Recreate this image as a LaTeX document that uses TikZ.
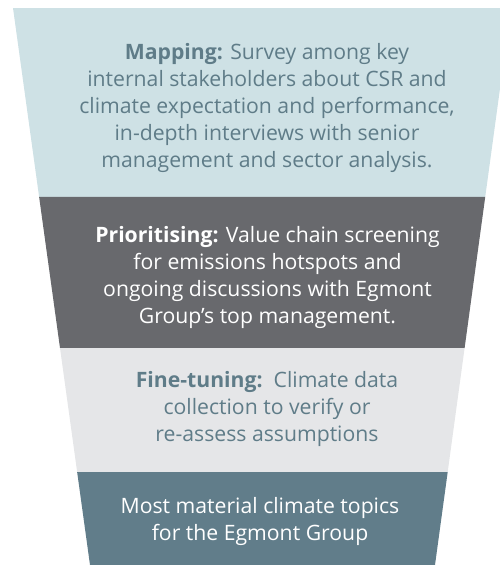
\documentclass[tikz,border=0pt]{standalone}
\usepackage{fontspec}
\setmainfont{Open Sans}
\usetikzlibrary{calc}
\definecolor{mapfill}{HTML}{CEE1E5}
\definecolor{prifill}{HTML}{68696D}
\definecolor{finefill}{HTML}{E5E6E8}
\definecolor{mostfill}{HTML}{617D8A}
\definecolor{slate}{HTML}{5F7C88}
\begin{document}
\begin{tikzpicture}[x=1pt,y=-1pt,
  bandtext/.style={align=center, inner sep=0pt,
    font=\fontsize{21.2}{27}\selectfont},
  darktext/.style={bandtext, text=slate},
  lighttext/.style={bandtext, text=white}]
\useasboundingbox (0,0) rectangle (499,565);
% funnel outline corners
\coordinate (TL) at (13,8);
\coordinate (TR) at (511,8);
\coordinate (BL) at (90,565);
\coordinate (BR) at (435,565);
% band boundaries along the slanted sides
\coordinate (L1) at ($(TL)!{189/557}!(BL)$);
\coordinate (R1) at ($(TR)!{189/557}!(BR)$);
\coordinate (L2) at ($(TL)!{340/557}!(BL)$);
\coordinate (R2) at ($(TR)!{340/557}!(BR)$);
\coordinate (L3) at ($(TL)!{464/557}!(BL)$);
\coordinate (R3) at ($(TR)!{464/557}!(BR)$);
% bands
\fill[mapfill] (TL) -- (TR) -- (R1) -- (L1) -- cycle;
\fill[prifill] (L1) -- (R1) -- (R2) -- (L2) -- cycle;
\fill[finefill] (L2) -- (R2) -- (R3) -- (L3) -- cycle;
\fill[mostfill] (L3) -- (R3) -- (BR) -- (BL) -- cycle;
% texts
\node[darktext] (mapping) at (267,107.8) {\textbf{Mapping:} Survey among key\\
  internal stakeholders about CSR and\\
  climate expectation and performance,\\
  in-depth interviews with senior\\
  management and sector analysis.};
\node[lighttext] (prioritising) at (267.5,277.5) {\textbf{Prioritising:} Value chain screening\\
  for emissions hotspots and\\
  ongoing discussions with Egmont\\
  Group’s top management.};
\node[darktext] (finetuning) at (267,409) {\textbf{Fine-tuning:}\ \ Climate data\\
  collection to verify or\\
  re-assess assumptions};
\node[lighttext] (material) at (260,521) {Most material climate topics\\
  for the Egmont Group};
\end{tikzpicture}
\end{document}
